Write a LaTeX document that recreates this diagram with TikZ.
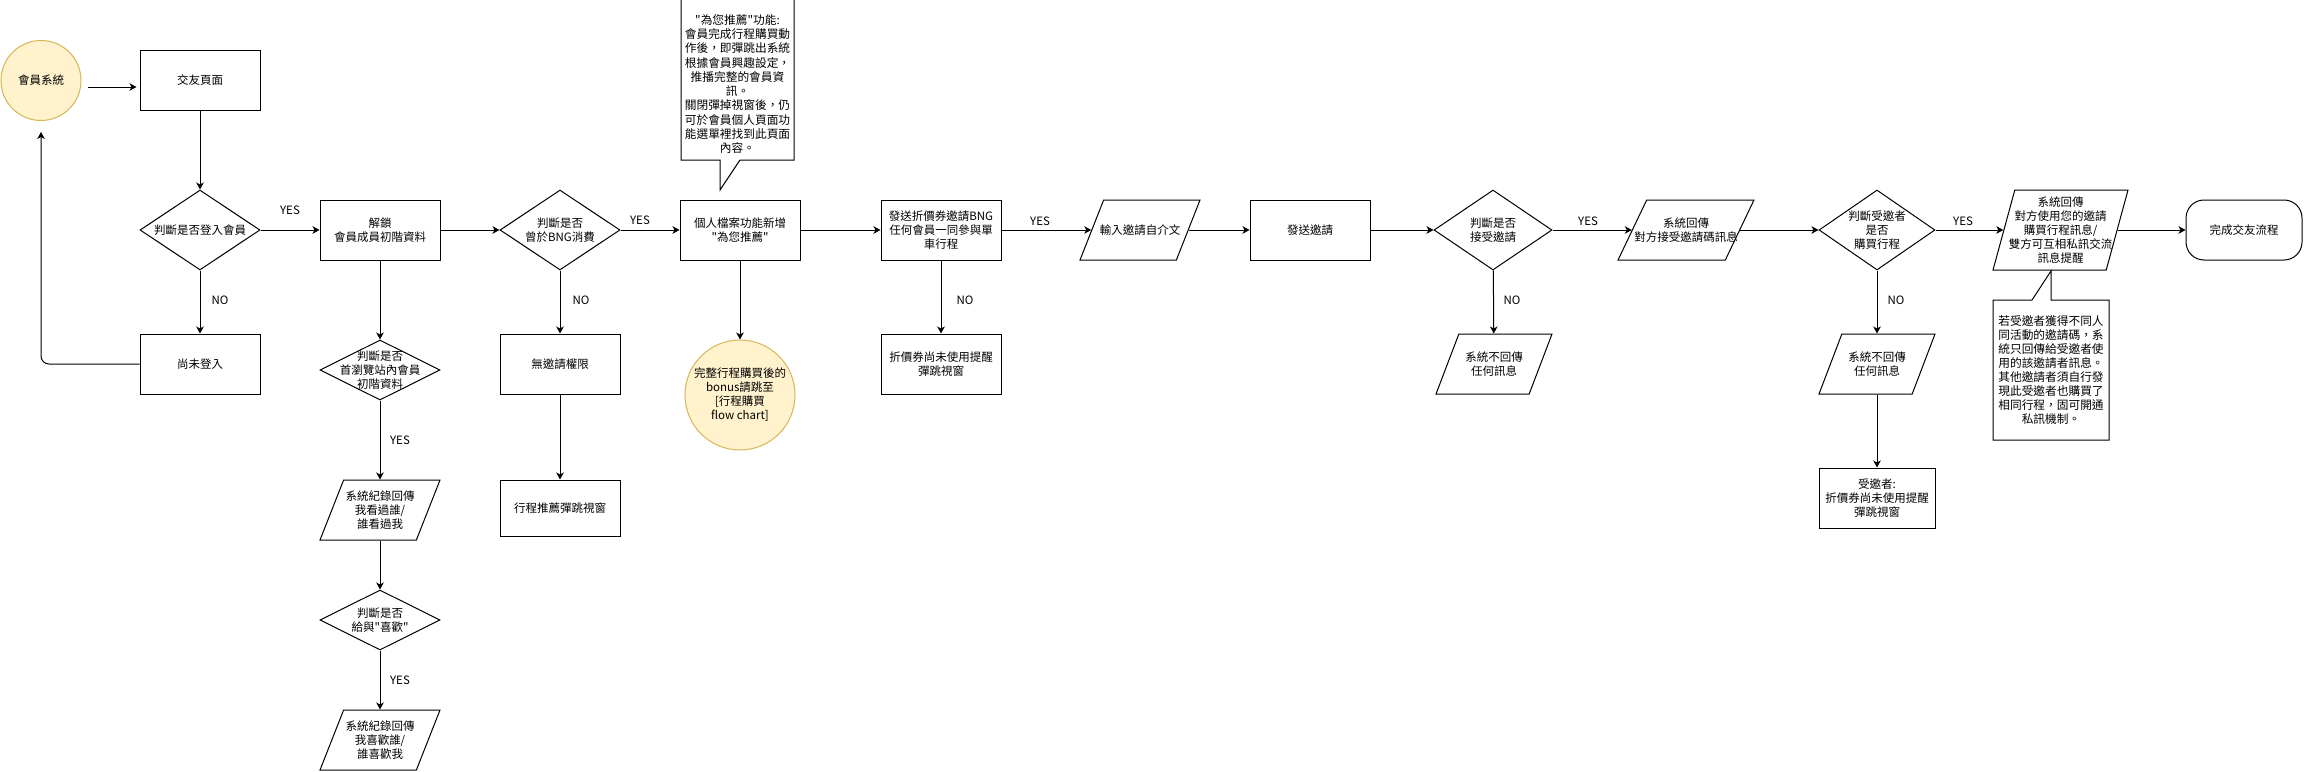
\documentclass[tikz,border=0pt]{standalone}
\usepackage{fontspec}
\setmainfont{Noto Sans CJK TC}[Ligatures=TeXOff]
\usetikzlibrary{shapes.geometric,arrows.meta}
\definecolor{yfill}{HTML}{FFF2CC}
\definecolor{ydraw}{HTML}{D6B656}
\begin{document}
\begin{tikzpicture}[x=1pt,y=-1pt,line width=1pt,
  every node/.style={font=\fontsize{11.5pt}{14pt}\selectfont, align=center, inner sep=0pt},
  box/.style={draw, minimum width=120pt, minimum height=60pt},
  dia/.style={draw, diamond, inner sep=1pt, minimum width=120pt, minimum height=80pt},
  para/.style={draw, trapezium, inner sep=2pt, trapezium stretches=true, trapezium left angle=72, trapezium right angle=108, minimum width=120pt, minimum height=60pt},
  circ/.style={draw=ydraw, fill=yfill, circle},
  arr/.style={-{Stealth[length=7pt,width=7.5pt,inset=2pt]}},
  lab/.style={font=\fontsize{11.5pt}{14pt}\selectfont}
]
\path[use as bounding box, fill=white] (0,0) rectangle (2321,771);

% nodes
\node[circ, minimum size=80pt, label={center:會員系統}] (memsys) at (41,80.5) {};
\node[box] (page) at (200,80.5) {交友頁面};
\node[dia, label={center:判斷是否登入會員}] (d1) at (200,230) {};
\node[box] (unlock) at (380,230) {解鎖\\會員成員初階資料};
\node[box] (notin) at (200,364) {尚未登入};
\node[dia, minimum height=60pt, label={[align=center]center:{判斷是否\\首瀏覽站內會員\\初階資料}}] (d2) at (380,370) {};
\node[para, label={[align=center]center:{系統紀錄回傳\\我看過誰/\\誰看過我}}] (p1) at (380,510) {};
\node[dia, minimum height=60pt, label={[align=center]center:{判斷是否\\給與"喜歡"}}] (d3) at (380,620) {};
\node[para, label={[align=center]center:{系統紀錄回傳\\我喜歡誰/\\誰喜歡我}}] (p2) at (380,740) {};
\node[dia, label={[align=center]center:{判斷是否\\曾於BNG消費}}] (d4) at (560,230) {};
\node[box] (noinv) at (560,364) {無邀請權限};
\node[box, minimum height=56pt] (popup) at (560,508) {行程推薦彈跳視窗};
\node[box] (profile) at (740,230) {個人檔案功能新增\\"為您推薦"};
\node[circ, minimum size=110pt, label={[align=center]center:{完整行程購買後的\\bonus請跳至\\{[}行程購買\\flow chart{]}}}] (bonus) at (740,395) {};
\node[box] (coupon) at (941,230) {發送折價券邀請BNG\\任何會員一同參與單\\車行程};
\node[box] (unused) at (941,364) {折價券尚未使用提醒\\彈跳視窗};
\node[para, label={center:輸入邀請自介文}] (intro) at (1140,230) {};
\node[box] (send) at (1310,230) {發送邀請};
\node[dia, minimum width=118pt, label={[align=center]center:{判斷是否\\接受邀請}}] (d5) at (1493,230) {};
\node[para, minimum width=136pt, trapezium left angle=70, trapezium right angle=110, label={[align=center]center:{系統回傳\\對方接受邀請碼訊息}}] (accept) at (1686,230) {};
\node[para, minimum width=116pt, label={[align=center]center:{系統不回傳\\任何訊息}}] (nr1) at (1494,364) {};
\node[dia, minimum width=116pt, label={[align=center]center:{判斷受邀者\\是否\\購買行程}}] (d6) at (1877,230) {};
\node[para, minimum width=116pt, label={[align=center]center:{系統不回傳\\任何訊息}}] (nr2) at (1877,364) {};
\node[box, minimum width=116pt] (invitee) at (1877,498) {受邀者:\\折價券尚未使用提醒\\彈跳視窗};
\node[para, minimum width=135pt, minimum height=80pt, trapezium left angle=76.6, trapezium right angle=103.4, label={[align=center]center:{系統回傳\\對方使用您的邀請\\購買行程訊息/\\雙方可互相私訊交流\\訊息提醒}}] (final) at (2060.5,230) {};
\node[box, rounded corners=18pt, minimum width=116pt] (end) at (2244,230) {完成交友流程};

% callouts
\draw[fill=white] (681,-2) -- (794,-2) -- (794,160) -- (740,160) -- (720,190) -- (720,160) -- (681,160) -- cycle;
\node[font=\fontsize{11.7pt}{14.3pt}\selectfont] (c1) at (737.5,84) {"為您推薦"功能:\\會員完成行程購買動\\作後，即彈跳出系統\\根據會員興趣設定，\\推播完整的會員資\\訊。\\關閉彈掉視窗後，仍\\可於會員個人頁面功\\能選單裡找到此頁面\\內容。};
\draw[fill=white] (1993,300) -- (2032,300) -- (2051,271) -- (2051,300) -- (2109,300) -- (2109,440) -- (1993,440) -- cycle;
\node[font=\fontsize{11.7pt}{14pt}\selectfont] (c2) at (2051,370) {若受邀者獲得不同人\\同活動的邀請碼，系\\統只回傳給受邀者使\\用的該邀請者訊息。\\其他邀請者須自行發\\現此受邀者也購買了\\相同行程，固可開通\\私訊機制。};

% connectors
\draw[arr, shorten >=3pt] ([shift={(6pt,-6.5pt)}]memsys.east) -- ([yshift=-6.5pt]page.west);
\draw[arr] (page) -- (d1);
\draw[arr] (d1) -- (unlock);
\draw[arr] (d1) -- (notin);
\draw[arr, rounded corners=8pt] (notin.west) -| ([yshift=-11pt]memsys.south);
\draw[arr] (unlock) -- (d4);
\draw[arr] (unlock) -- (d2);
\draw[arr] (d2) -- (p1);
\draw[arr] (p1) -- (d3);
\draw[arr] (d3) -- (p2);
\draw[arr] (d4) -- (profile);
\draw[arr] (d4) -- (noinv);
\draw[arr] (noinv) -- (popup);
\draw[arr] (profile) -- (coupon);
\draw[arr] (profile) -- (bonus);
\draw[arr] (coupon) -- (intro);
\draw[arr] (coupon) -- (unused);
\draw[arr] (intro) -- (send);
\draw[arr] (send) -- (d5);
\draw[arr] (d5) -- (accept);
\draw[arr] (d5) -- (nr1);
\draw[arr] (accept) -- (d6);
\draw[arr] (d6) -- (final);
\draw[arr] (d6) -- (nr2);
\draw[arr] (nr2) -- (invitee);
\draw[arr] (final) -- (end);

% edge labels
\node[lab] (y1) at (290,210) {YES};
\node[lab] (n1) at (220,300) {NO};
\node[lab] (y2) at (400,440) {YES};
\node[lab] (y3) at (400,680) {YES};
\node[lab] (y4) at (640,220) {YES};
\node[lab] (n4) at (581,300) {NO};
\node[lab] (y5) at (1040,221) {YES};
\node[lab] (n5) at (965,300) {NO};
\node[lab] (y6) at (1588,221) {YES};
\node[lab] (n6) at (1512,300) {NO};
\node[lab] (y7) at (1963,221) {YES};
\node[lab] (n7) at (1896,300) {NO};
\end{tikzpicture}
\end{document}
